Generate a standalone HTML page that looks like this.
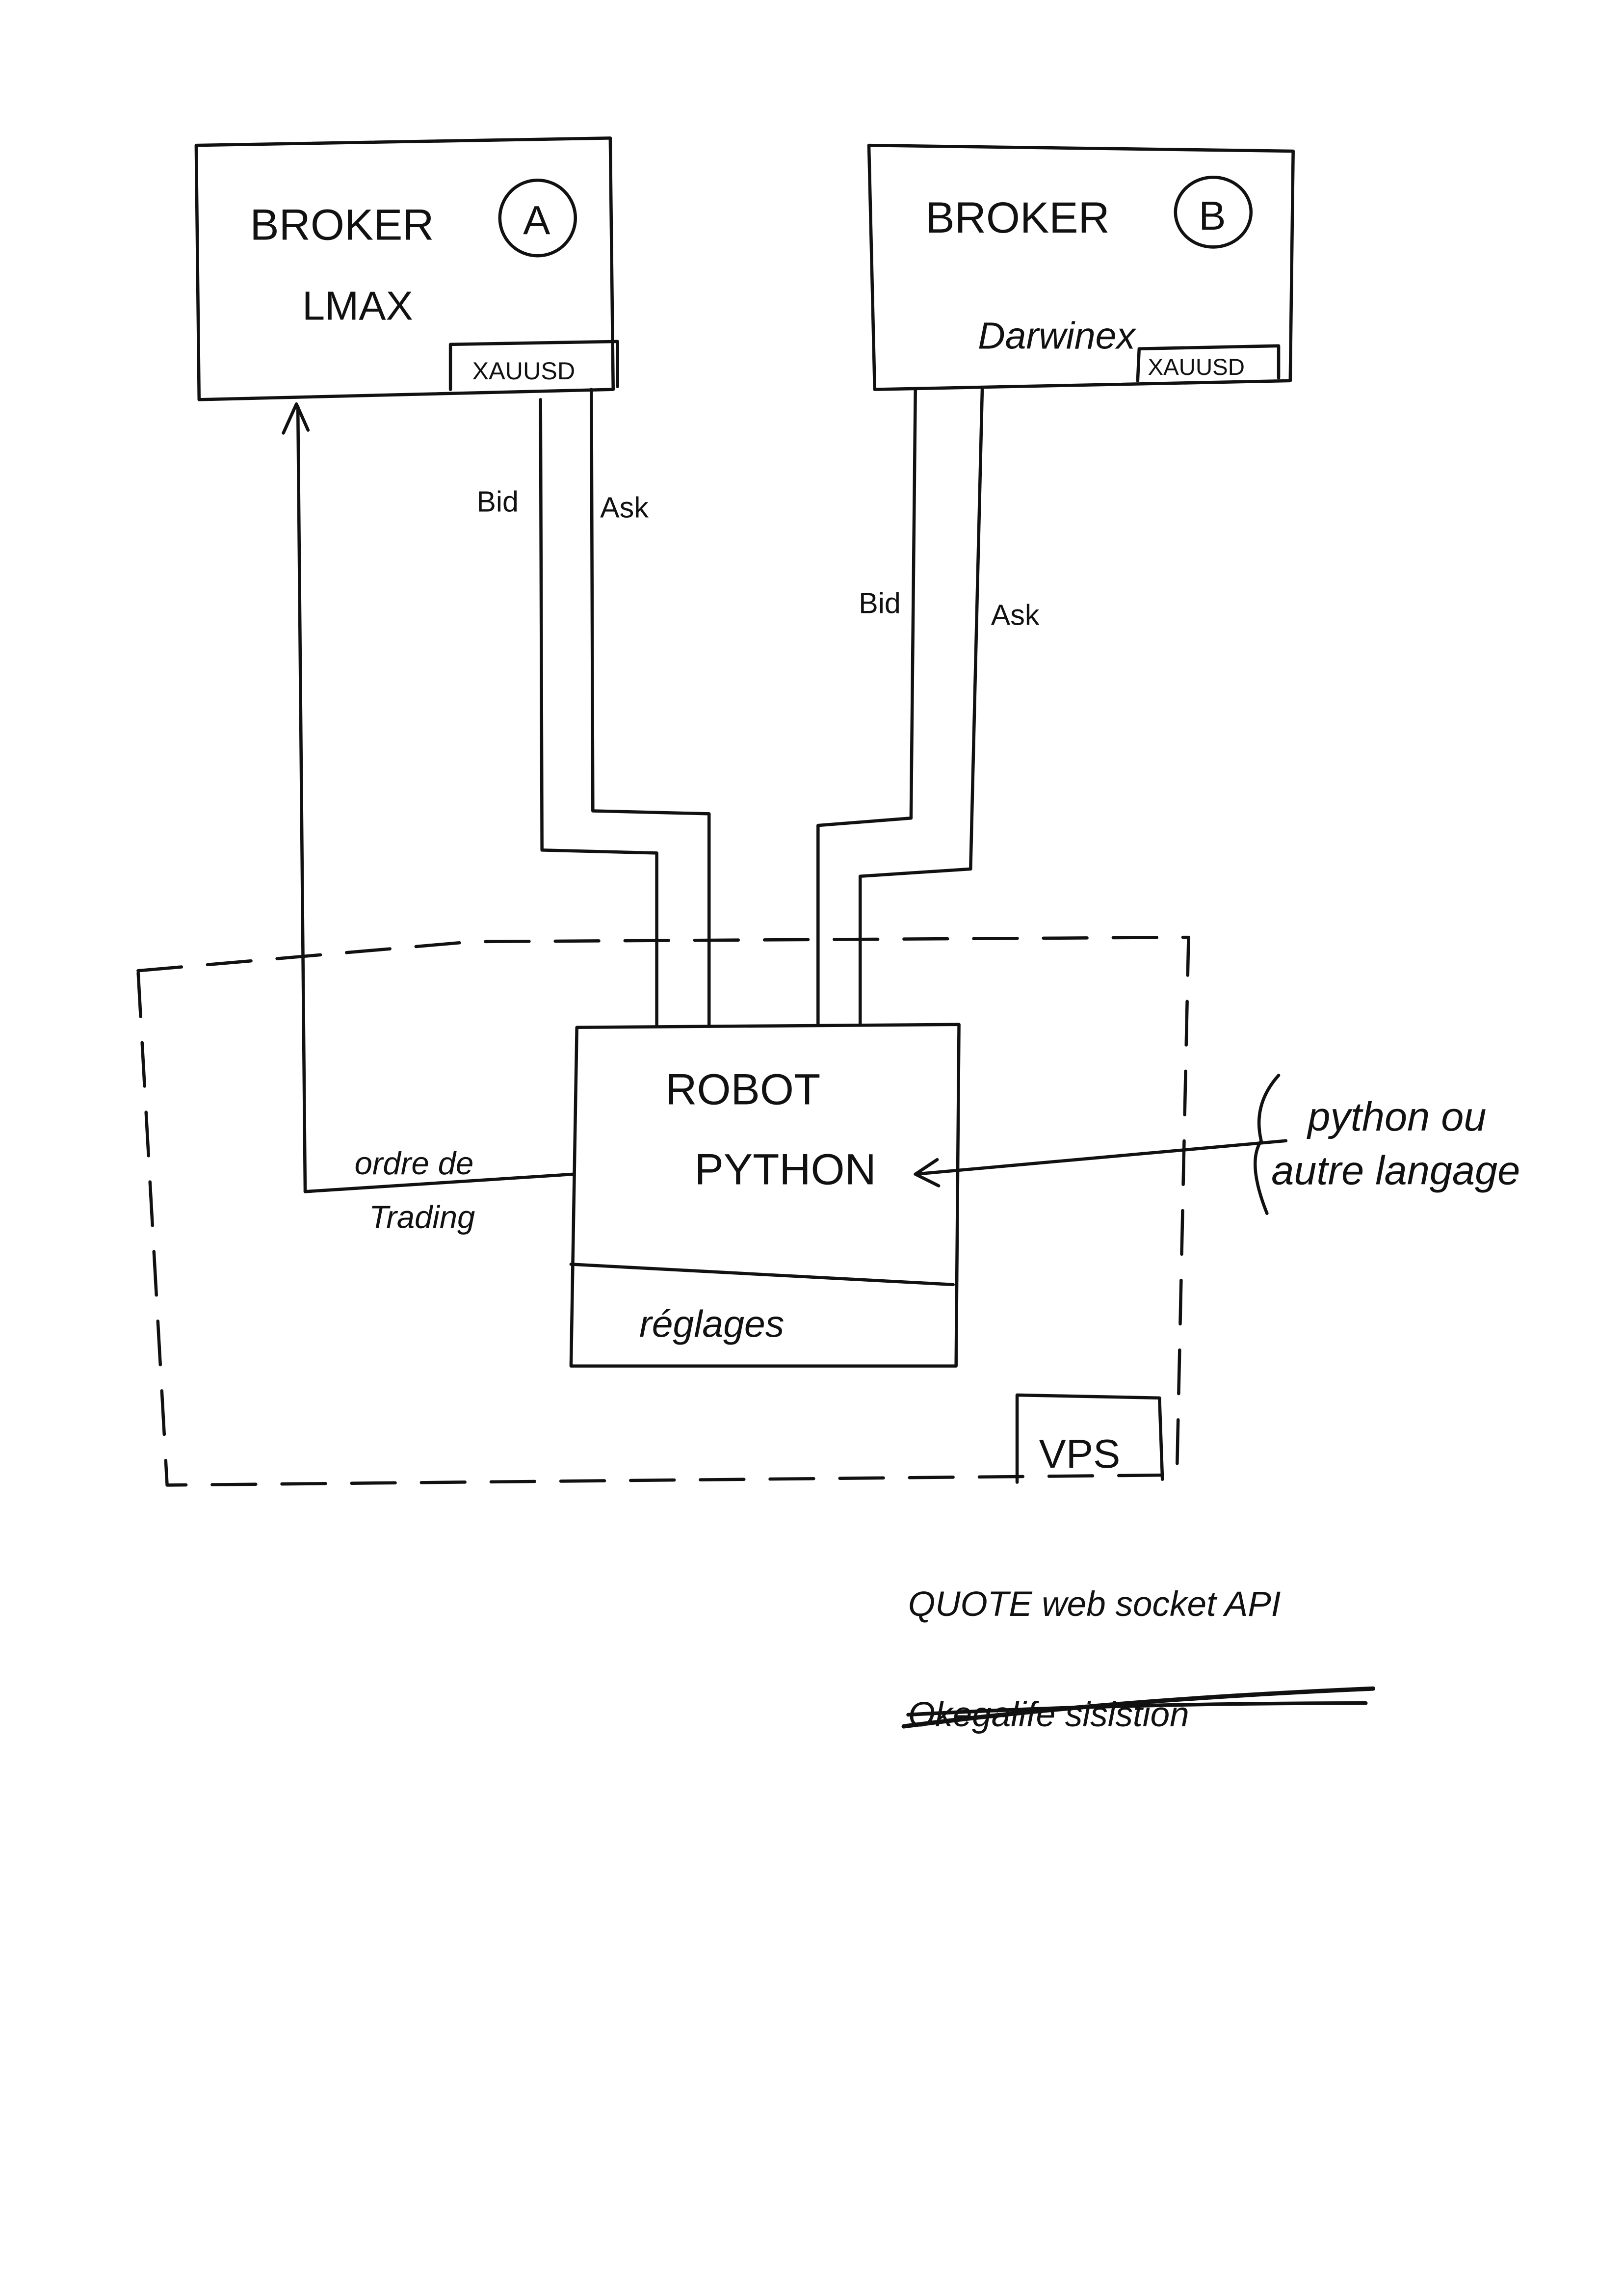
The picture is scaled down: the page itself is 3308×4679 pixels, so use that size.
<!DOCTYPE html>
<html><head><meta charset="utf-8"><style>
html,body{margin:0;padding:0;background:#fff;}
svg{display:block}
text{font-family:"Liberation Sans",sans-serif;fill:#111}
</style></head><body>
<svg width="3308" height="4679" viewBox="0 0 1117 1580" xmlns="http://www.w3.org/2000/svg">
<rect width="1117" height="1580" fill="#fff"/>
<g fill="none" stroke="#111" stroke-width="2.2" stroke-linecap="round" stroke-linejoin="round">
<!-- Broker A -->
<path d="M135 100 L420 95 L422 268 L137 275 Z"/>
<path d="M310 268 L310 237 L425 235 L425 266"/>
<circle cx="370" cy="150" r="26"/>
<!-- Broker B -->
<path d="M598 100 L890 104 L888 262 L602 268 Z"/>
<path d="M783 262 L784 240 L880 238 L880 260"/>
<ellipse cx="835" cy="146" rx="26" ry="24"/>
<!-- lines A -->
<path d="M372 275 L373 585 L452 587 L452 705"/>
<path d="M407 268 L408 558 L488 560 L488 705"/>
<!-- lines B -->
<path d="M630 268 L627 563 L563 568 L563 705"/>
<path d="M676 268 L668 598 L592 603 L592 705"/>
<!-- order arrow -->
<path d="M210 820 L205 280"/>
<path d="M195 298 L204 278 L212 296"/>
<path d="M210 820 L395 808"/>
<!-- Robot -->
<path d="M397 707 L660 705 L658 940 L393 940 Z"/>
<path d="M393 870 L656 884"/>
<!-- python arrow -->
<path d="M885 785 L630 808"/>
<path d="M645 798 L630 808 L646 816"/>
<path d="M880 740 Q862 760 868 785 Q858 800 872 835"/>
<!-- dashed VPS box -->
<path d="M95 668 L325 648 L818 645 L810 1015 L115 1022 L95 668" stroke-dasharray="30,18"/>
<path d="M700 1020 L700 960 L798 962 L800 1018"/>
<!-- strike -->
<path d="M622 1188 Q760 1170 945 1162" stroke-width="3"/>
<path d="M625 1180 Q770 1172 940 1172" stroke-width="2.5"/>
</g>
<g font-size="30">
<text x="172" y="165">BROKER</text>
<text x="360" y="161" font-size="28">A</text>
<text x="208" y="220" font-size="28">LMAX</text>
<text x="637" y="160">BROKER</text>
<text x="825" y="158" font-size="28">B</text>
</g>
<text x="673" y="240" font-size="26" font-style="italic">Darwinex</text>
<text x="325" y="261" font-size="17">XAUUSD</text>
<text x="790" y="258" font-size="16">XAUUSD</text>
<text x="328" y="352" font-size="20">Bid</text>
<text x="413" y="356" font-size="20">Ask</text>
<text x="591" y="422" font-size="20">Bid</text>
<text x="682" y="430" font-size="20">Ask</text>
<text x="244" y="808" font-size="22" font-style="italic">ordre de</text>
<text x="254" y="845" font-size="22" font-style="italic">Trading</text>
<text x="458" y="760" font-size="30">ROBOT</text>
<text x="478" y="815" font-size="30">PYTHON</text>
<text x="440" y="920" font-size="26" font-style="italic">réglages</text>
<text x="715" y="1010" font-size="28">VPS</text>
<text x="900" y="778" font-size="28" font-style="italic" font-family="Liberation Serif">python ou</text>
<text x="875" y="815" font-size="28" font-style="italic" font-family="Liberation Serif">autre langage</text>
<text x="625" y="1112" font-size="24" font-style="italic">QUOTE web socket API</text>
<text x="625" y="1188" font-size="24" font-style="italic">Okegalife sisistion</text>
</svg>
</body></html>
